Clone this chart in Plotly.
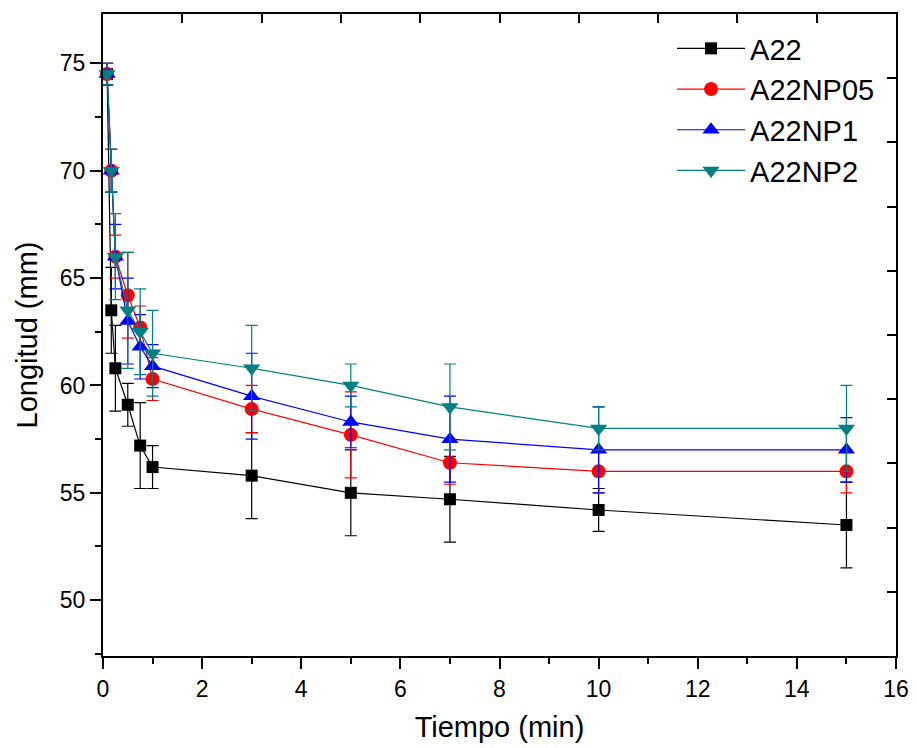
import plotly.graph_objects as go

# Time points (min)
tiempo = [0.083, 0.167, 0.25, 0.5, 0.75, 1, 3, 5, 7, 10, 15]

# Series values (mm)
a22 = [74.5, 63.5, 60.8, 59.1, 57.2, 56.2, 55.8, 55.0, 54.7, 54.2, 53.5]
a22_err = [0.5, 2.0, 2.0, 1.0, 2.0, 1.0, 2.0, 2.0, 2.0, 1.0, 2.0]

a22np05 = [74.5, 70.0, 66.0, 64.2, 62.7, 60.3, 58.9, 57.7, 56.4, 56.0, 56.0]
a22np05_err = [0.5, 1.0, 1.0, 2.0, 1.0, 1.0, 1.1, 2.0, 1.0, 1.0, 1.0]

a22np1 = [74.5, 70.0, 66.0, 63.0, 61.8, 60.9, 59.5, 58.3, 57.5, 57.0, 57.0]
a22np1_err = [0.5, 1.0, 1.5, 2.0, 1.5, 1.0, 2.0, 1.2, 2.0, 2.0, 1.5]

a22np2 = [74.5, 70.0, 66.0, 63.5, 62.5, 61.5, 60.8, 60.0, 59.0, 58.0, 58.0]
a22np2_err = [0.5, 1.0, 2.0, 2.7, 2.0, 2.0, 2.0, 1.0, 2.0, 1.0, 2.0]

series = [
    ("A22", a22, a22_err, "#000000", "square", 12),
    ("A22NP05", a22np05, a22np05_err, "#FF0000", "circle", 14),
    ("A22NP1", a22np1, a22np1_err, "#0000FF", "triangle-up", 15),
    ("A22NP2", a22np2, a22np2_err, "#008080", "triangle-down", 15),
]

FONT = "Liberation Sans, Arial, sans-serif"

fig = go.Figure()
for name, vals, errs, color, symbol, size in series:
    fig.add_trace(go.Scatter(
        x=tiempo, y=vals, name=name, mode="lines+markers",
        line=dict(color=color, width=1.2),
        marker=dict(symbol=symbol, size=size, color=color),
        error_y=dict(type="data", array=errs, visible=True, color=color,
                     thickness=1.2, width=6),
        cliponaxis=False,
    ))

# empty helper trace so the top/right tick frame is drawn
fig.add_trace(go.Scatter(x=[], y=[], xaxis="x2", yaxis="y2",
                         showlegend=False, hoverinfo="skip"))

fig.update_layout(
    width=909, height=740,
    margin=dict(l=95, r=21, t=4, b=92),
    paper_bgcolor="white", plot_bgcolor="white",
    font=dict(family=FONT, color="black", size=23),
    showlegend=True,
    legend=dict(x=0.7176, y=0.986, xanchor="left", yanchor="top",
                font=dict(size=29, family=FONT), bgcolor="rgba(0,0,0,0)",
                tracegroupgap=0, itemwidth=68),
    xaxis=dict(
        range=[0, 16], tickmode="linear", tick0=0, dtick=2,
        ticks="outside", ticklen=11, tickwidth=2, tickcolor="black",
        minor=dict(ticks="outside", ticklen=6, tickwidth=2, dtick=1, tickcolor="black"),
        showline=True, linecolor="black", linewidth=2, mirror=True,
        showgrid=False, zeroline=False,
        title=dict(text="Tiempo (min)", font=dict(size=29), standoff=16),
        tickfont=dict(size=23),
    ),
    yaxis=dict(
        range=[47.4, 77.3], tickmode="linear", tick0=50, dtick=5,
        ticks="outside", ticklen=11, tickwidth=2, tickcolor="black",
        minor=dict(ticks="outside", ticklen=6, tickwidth=2, dtick=2.5, tickcolor="black"),
        showline=True, linecolor="black", linewidth=2, mirror=True,
        showgrid=False, zeroline=False,
        title=dict(text="Longitud (mm)", font=dict(size=29), standoff=14),
        tickfont=dict(size=23),
    ),
    xaxis2=dict(
        overlaying="x", side="top", anchor="y2", range=[0, 10],
        tickmode="linear", tick0=0, dtick=1, ticks="inside", ticklen=9,
        tickwidth=2, tickcolor="black", showticklabels=False,
        showgrid=False, zeroline=False, showline=False,
    ),
    yaxis2=dict(
        overlaying="y", side="right", anchor="x2", range=[0, 10],
        tickmode="linear", tick0=0, dtick=1, ticks="inside", ticklen=9,
        tickwidth=2, tickcolor="black", showticklabels=False,
        showgrid=False, zeroline=False, showline=False,
    ),
)

fig.write_html("out.html")
